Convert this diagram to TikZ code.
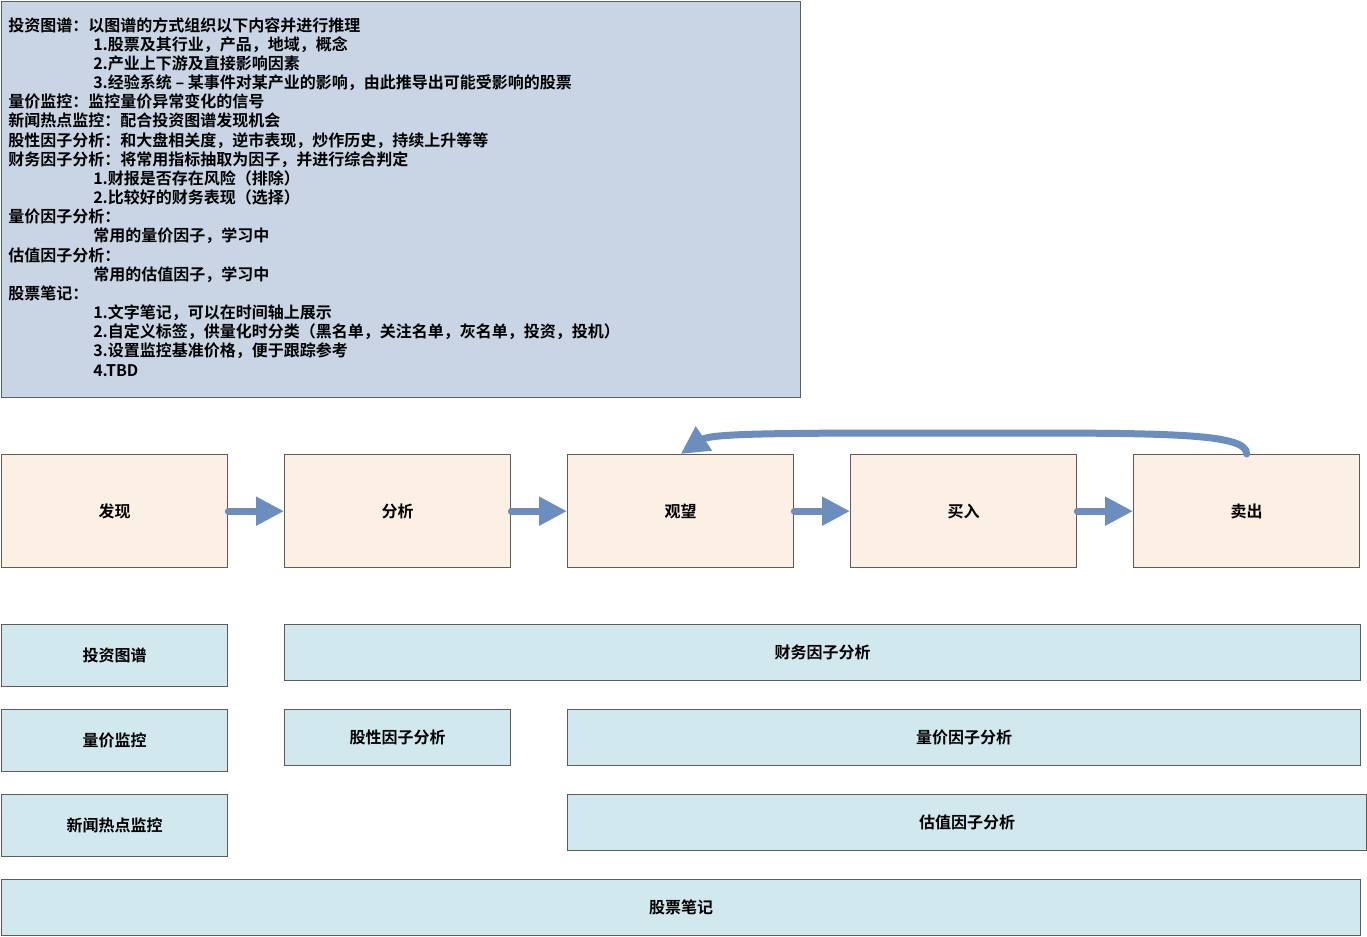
\documentclass[tikz,border=0pt]{standalone}
\usepackage{fontspec}
\setmainfont{Noto Sans CJK SC}[BoldFont={* Bold}]
\usetikzlibrary{arrows.meta}
\definecolor{peach}{HTML}{FCEFE4}
\definecolor{lblue}{HTML}{D1E8EE}
\definecolor{infobg}{HTML}{C9D5E4}
\definecolor{infoline}{HTML}{56606C}
\definecolor{boxline}{HTML}{5E5B59}
\definecolor{arrblue}{HTML}{6C8EBF}
\tikzset{
  stage/.style={draw=boxline, line width=1pt, fill=peach, anchor=north west,
    minimum width=169.5pt, minimum height=84.75pt, inner sep=0pt,
    font=\fontsize{12pt}{14pt}\selectfont\bfseries},
  module/.style={draw=boxline, line width=1pt, fill=lblue, anchor=north west,
    inner sep=0pt, font=\fontsize{12pt}{14pt}\selectfont\bfseries},
  flowarr/.style={draw=arrblue, line width=5.25pt, line cap=round,
    -{Triangle[length=21pt,width=20.5pt]}},
}
\begin{document}
\begin{tikzpicture}[x=0.75pt,y=-0.75pt]
\useasboundingbox (0,0) rectangle (1367,936);
% info box
\node[draw=infoline, line width=1pt, fill=infobg, anchor=north west,
  minimum width=599.25pt, minimum height=297pt, inner sep=0pt] (info) at (1,1) {};
\node[anchor=north west, align=left, inner sep=0pt,
  font=\fontsize{12pt}{14.375pt}\selectfont\bfseries] (infotext) at (8,17) {%
投资图谱：以图谱的方式组织以下内容并进行推理\\
\hspace*{63.75pt}1.股票及其行业，产品，地域，概念\\
\hspace*{63.75pt}2.产业上下游及直接影响因素\\
\hspace*{63.75pt}3.经验系统 – 某事件对某产业的影响，由此推导出可能受影响的股票\\
量价监控：监控量价异常变化的信号\\
新闻热点监控：配合投资图谱发现机会\\
股性因子分析：和大盘相关度，逆市表现，炒作历史，持续上升等等\\
财务因子分析：将常用指标抽取为因子，并进行综合判定\\
\hspace*{63.75pt}1.财报是否存在风险（排除）\\
\hspace*{63.75pt}2.比较好的财务表现（选择）\\
量价因子分析：\\
\hspace*{63.75pt}常用的量价因子，学习中\\
估值因子分析：\\
\hspace*{63.75pt}常用的估值因子，学习中\\
股票笔记：\\
\hspace*{63.75pt}1.文字笔记，可以在时间轴上展示\\
\hspace*{63.75pt}2.自定义标签，供量化时分类（黑名单，关注名单，灰名单，投资，投机）\\
\hspace*{63.75pt}3.设置监控基准价格，便于跟踪参考\\
\hspace*{63.75pt}4.TBD};
% stages
\node[stage] (find) at (1,454) {发现};
\node[stage] (analyze) at (284,454) {分析};
\node[stage] (watch) at (567,454) {观望};
\node[stage] (buy) at (850,454) {买入};
\node[stage] (sell) at (1133,454) {卖出};
\draw[flowarr] (find.east) -- (analyze.west);
\draw[flowarr] (analyze.east) -- (watch.west);
\draw[flowarr] (watch.east) -- (buy.west);
\draw[flowarr] (buy.east) -- (sell.west);
\coordinate (fbmid) at (960,433);
\draw[flowarr] (sell.north) .. controls (1247,432) and (1160,433) .. (fbmid)
  .. controls (790,433) and (712,433) .. (watch.north);
% modules
\node[module, minimum width=169.5pt, minimum height=46.5pt] (graph) at (1,624) {投资图谱};
\node[module, minimum width=807pt, minimum height=42pt] (fin) at (284,624) {财务因子分析};
\node[module, minimum width=169.5pt, minimum height=46.5pt] (pricemon) at (1,709) {量价监控};
\node[module, minimum width=169.5pt, minimum height=42pt] (stockchar) at (284,709) {股性因子分析};
\node[module, minimum width=594.75pt, minimum height=42pt] (pricefac) at (567,709) {量价因子分析};
\node[module, minimum width=169.5pt, minimum height=46.5pt] (news) at (1,794) {新闻热点监控};
\node[module, minimum width=599.25pt, minimum height=42pt] (valfac) at (567,794) {估值因子分析};
\node[module, minimum width=1019.25pt, minimum height=42pt] (notes) at (1,879) {股票笔记};
\end{tikzpicture}
\end{document}
